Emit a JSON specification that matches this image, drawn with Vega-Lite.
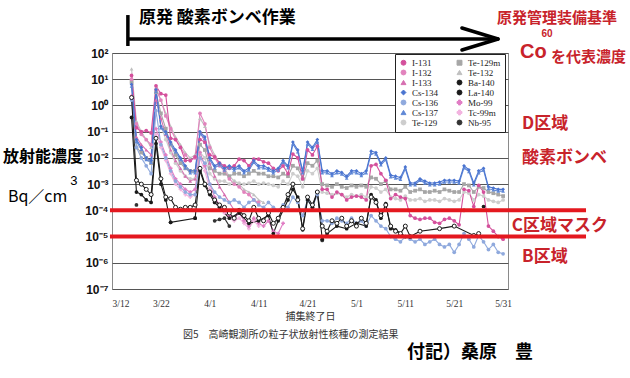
{
"$schema":"https://vega.github.io/schema/vega-lite/v6.json",
"width":396,"height":236,
"autosize":{"type":"none"},
"padding":{"left":112,"top":53,"right":122,"bottom":89},
"background":"white",
"config":{"view":{"stroke":"#8a8a8a","strokeWidth":1}},
"datasets":{"m":[
{"t":"2011-03-22","s":"Te-129","v":0.16},{"t":"2011-03-23","s":"Te-129","v":0.05},{"t":"2011-03-24","s":"Te-129","v":0.016},{"t":"2011-03-25","s":"Te-129","v":0.0063},{"t":"2011-03-26","s":"Te-129","v":0.0032},{"t":"2011-03-27","s":"Te-129","v":0.002},{"t":"2011-03-28","s":"Te-129","v":0.0016},{"t":"2011-03-29","s":"Te-129","v":0.0016},{"t":"2011-03-30","s":"Te-129","v":0.016},{"t":"2011-03-31","s":"Te-129","v":0.01},
{"t":"2011-04-01","s":"Te-129","v":0.0025},{"t":"2011-04-02","s":"Te-129","v":0.0016},{"t":"2011-04-03","s":"Te-129","v":0.0013},{"t":"2011-04-04","s":"Te-129","v":0.0013},{"t":"2011-04-05","s":"Te-129","v":0.001},{"t":"2011-04-06","s":"Te-129","v":0.0013},{"t":"2011-04-07","s":"Te-129","v":0.0011},{"t":"2011-04-08","s":"Te-129","v":0.001},{"t":"2011-04-09","s":"Te-129","v":0.0011},{"t":"2011-04-10","s":"Te-129","v":0.0013},
{"t":"2011-04-11","s":"Te-129","v":0.001},{"t":"2011-04-12","s":"Te-129","v":0.0011},{"t":"2011-04-13","s":"Te-129","v":0.001},{"t":"2011-04-14","s":"Te-129","v":0.00089},{"t":"2011-04-15","s":"Te-129","v":0.00079},{"t":"2011-04-16","s":"Te-129","v":0.0013},{"t":"2011-04-17","s":"Te-129","v":0.001},{"t":"2011-04-18","s":"Te-129","v":0.0025},{"t":"2011-04-19","s":"Te-129","v":0.002},{"t":"2011-04-20","s":"Te-129","v":0.00079},
{"t":"2011-04-21","s":"Te-129","v":0.0032},{"t":"2011-04-22","s":"Te-129","v":0.0025},{"t":"2011-04-23","s":"Te-129","v":0.004},{"t":"2011-04-24","s":"Te-129","v":0.0005},{"t":"2011-04-25","s":"Te-129","v":0.00045},{"t":"2011-04-26","s":"Te-129","v":0.0004},{"t":"2011-04-27","s":"Te-129","v":0.00045},{"t":"2011-04-28","s":"Te-129","v":0.0004},{"t":"2011-04-29","s":"Te-129","v":0.00032},{"t":"2011-04-30","s":"Te-129","v":0.0004},
{"t":"2011-05-01","s":"Te-129","v":0.00035},{"t":"2011-05-02","s":"Te-129","v":0.0004},{"t":"2011-05-03","s":"Te-129","v":0.00032},{"t":"2011-05-04","s":"Te-129","v":0.00079},{"t":"2011-05-05","s":"Te-129","v":0.00071},{"t":"2011-05-06","s":"Te-129","v":0.0005},{"t":"2011-05-07","s":"Te-129","v":0.00063},{"t":"2011-05-08","s":"Te-129","v":0.00032},{"t":"2011-05-09","s":"Te-129","v":0.00028},{"t":"2011-05-10","s":"Te-129","v":0.00025},
{"t":"2011-05-11","s":"Te-129","v":0.00035},{"t":"2011-05-12","s":"Te-129","v":0.00025},{"t":"2011-05-13","s":"Te-129","v":0.00025},{"t":"2011-05-14","s":"Te-129","v":0.00028},{"t":"2011-05-15","s":"Te-129","v":0.00022},{"t":"2011-05-16","s":"Te-129","v":0.00025},{"t":"2011-05-17","s":"Te-129","v":0.00025},{"t":"2011-05-18","s":"Te-129","v":0.00022},{"t":"2011-05-19","s":"Te-129","v":0.00028},{"t":"2011-05-20","s":"Te-129","v":0.00025},
{"t":"2011-05-21","s":"Te-129","v":0.00022},{"t":"2011-05-22","s":"Te-129","v":0.00025},{"t":"2011-05-23","s":"Te-129","v":0.0005},{"t":"2011-05-24","s":"Te-129","v":0.00045},{"t":"2011-05-25","s":"Te-129","v":0.00025},{"t":"2011-05-26","s":"Te-129","v":0.0004},{"t":"2011-05-27","s":"Te-129","v":0.00035},{"t":"2011-05-28","s":"Te-129","v":0.00025},{"t":"2011-05-29","s":"Te-129","v":0.00022},{"t":"2011-05-30","s":"Te-129","v":0.0002},{"t":"2011-05-31","s":"Te-129","v":0.00025},
{"t":"2011-03-16","s":"Te-132","v":25},{"t":"2011-03-17","s":"Te-132","v":0.25},{"t":"2011-03-18","s":"Te-132","v":0.1},{"t":"2011-03-19","s":"Te-132","v":0.05},{"t":"2011-03-20","s":"Te-132","v":0.025},{"t":"2011-03-21","s":"Te-132","v":5},{"t":"2011-03-22","s":"Te-132","v":1.6},{"t":"2011-03-23","s":"Te-132","v":0.5},{"t":"2011-03-24","s":"Te-132","v":0.16},{"t":"2011-03-25","s":"Te-132","v":0.063},
{"t":"2011-03-26","s":"Te-132","v":0.032},{"t":"2011-03-27","s":"Te-132","v":0.016},{"t":"2011-03-28","s":"Te-132","v":0.01},{"t":"2011-03-29","s":"Te-132","v":0.013},{"t":"2011-03-30","s":"Te-132","v":0.32},{"t":"2011-03-31","s":"Te-132","v":0.16},{"t":"2011-04-01","s":"Te-132","v":0.032},{"t":"2011-04-02","s":"Te-132","v":0.013},{"t":"2011-04-03","s":"Te-132","v":0.0063},{"t":"2011-04-04","s":"Te-132","v":0.004},
{"t":"2011-04-05","s":"Te-132","v":0.002},{"t":"2011-04-06","s":"Te-132","v":0.0013},{"t":"2011-04-07","s":"Te-132","v":0.001},{"t":"2011-04-08","s":"Te-132","v":0.00063},{"t":"2011-04-09","s":"Te-132","v":0.0005},{"t":"2011-04-10","s":"Te-132","v":0.0004},{"t":"2011-04-11","s":"Te-132","v":0.00025},{"t":"2011-04-12","s":"Te-132","v":0.0002},
{"t":"2011-03-16","s":"Te-129m","v":7.9},{"t":"2011-03-17","s":"Te-129m","v":0.025},{"t":"2011-03-18","s":"Te-129m","v":0.016},{"t":"2011-03-19","s":"Te-129m","v":0.01},{"t":"2011-03-20","s":"Te-129m","v":0.0063},{"t":"2011-03-21","s":"Te-129m","v":3.2},{"t":"2011-03-22","s":"Te-129m","v":0.5},{"t":"2011-03-23","s":"Te-129m","v":0.13},{"t":"2011-03-24","s":"Te-129m","v":0.032},{"t":"2011-03-25","s":"Te-129m","v":0.013},
{"t":"2011-03-26","s":"Te-129m","v":0.0063},{"t":"2011-03-27","s":"Te-129m","v":0.004},{"t":"2011-03-28","s":"Te-129m","v":0.0032},{"t":"2011-03-29","s":"Te-129m","v":0.0032},{"t":"2011-03-30","s":"Te-129m","v":0.032},{"t":"2011-03-31","s":"Te-129m","v":0.02},{"t":"2011-04-01","s":"Te-129m","v":0.004},{"t":"2011-04-02","s":"Te-129m","v":0.0032},{"t":"2011-04-03","s":"Te-129m","v":0.0025},{"t":"2011-04-04","s":"Te-129m","v":0.0025},
{"t":"2011-04-05","s":"Te-129m","v":0.002},{"t":"2011-04-06","s":"Te-129m","v":0.0025},{"t":"2011-04-07","s":"Te-129m","v":0.0025},{"t":"2011-04-08","s":"Te-129m","v":0.002},{"t":"2011-04-09","s":"Te-129m","v":0.0025},{"t":"2011-04-10","s":"Te-129m","v":0.0032},{"t":"2011-04-11","s":"Te-129m","v":0.0025},{"t":"2011-04-12","s":"Te-129m","v":0.0025},{"t":"2011-04-13","s":"Te-129m","v":0.002},{"t":"2011-04-14","s":"Te-129m","v":0.002},
{"t":"2011-04-15","s":"Te-129m","v":0.0018},{"t":"2011-04-16","s":"Te-129m","v":0.0025},{"t":"2011-04-17","s":"Te-129m","v":0.002},{"t":"2011-04-18","s":"Te-129m","v":0.005},{"t":"2011-04-19","s":"Te-129m","v":0.004},{"t":"2011-04-20","s":"Te-129m","v":0.0016},{"t":"2011-04-21","s":"Te-129m","v":0.0063},{"t":"2011-04-22","s":"Te-129m","v":0.005},{"t":"2011-04-23","s":"Te-129m","v":0.0079},{"t":"2011-04-24","s":"Te-129m","v":0.001},
{"t":"2011-04-25","s":"Te-129m","v":0.00089},{"t":"2011-04-26","s":"Te-129m","v":0.00079},{"t":"2011-04-27","s":"Te-129m","v":0.001},{"t":"2011-04-28","s":"Te-129m","v":0.00079},{"t":"2011-04-29","s":"Te-129m","v":0.00071},{"t":"2011-04-30","s":"Te-129m","v":0.00089},{"t":"2011-05-01","s":"Te-129m","v":0.00079},{"t":"2011-05-02","s":"Te-129m","v":0.00089},{"t":"2011-05-03","s":"Te-129m","v":0.00079},{"t":"2011-05-04","s":"Te-129m","v":0.0018},
{"t":"2011-05-05","s":"Te-129m","v":0.0016},{"t":"2011-05-06","s":"Te-129m","v":0.001},{"t":"2011-05-07","s":"Te-129m","v":0.0013},{"t":"2011-05-08","s":"Te-129m","v":0.00063},{"t":"2011-05-09","s":"Te-129m","v":0.00063},{"t":"2011-05-10","s":"Te-129m","v":0.00056},{"t":"2011-05-11","s":"Te-129m","v":0.00079},{"t":"2011-05-12","s":"Te-129m","v":0.0005},{"t":"2011-05-13","s":"Te-129m","v":0.00056},{"t":"2011-05-14","s":"Te-129m","v":0.00063},
{"t":"2011-05-15","s":"Te-129m","v":0.0005},{"t":"2011-05-16","s":"Te-129m","v":0.0005},{"t":"2011-05-17","s":"Te-129m","v":0.00056},{"t":"2011-05-18","s":"Te-129m","v":0.0005},{"t":"2011-05-19","s":"Te-129m","v":0.00063},{"t":"2011-05-20","s":"Te-129m","v":0.00056},{"t":"2011-05-21","s":"Te-129m","v":0.0005},{"t":"2011-05-22","s":"Te-129m","v":0.0005},{"t":"2011-05-23","s":"Te-129m","v":0.001},{"t":"2011-05-24","s":"Te-129m","v":0.00089},
{"t":"2011-05-25","s":"Te-129m","v":0.0005},{"t":"2011-05-26","s":"Te-129m","v":0.00079},{"t":"2011-05-27","s":"Te-129m","v":0.00071},{"t":"2011-05-28","s":"Te-129m","v":0.0005},{"t":"2011-05-29","s":"Te-129m","v":0.00045},{"t":"2011-05-30","s":"Te-129m","v":0.0004},{"t":"2011-05-31","s":"Te-129m","v":0.00035},
{"t":"2011-03-21","s":"Tc-99m","v":0.079},{"t":"2011-03-22","s":"Tc-99m","v":0.025},{"t":"2011-03-23","s":"Tc-99m","v":0.0079},{"t":"2011-03-24","s":"Tc-99m","v":0.0025},{"t":"2011-03-25","s":"Tc-99m","v":0.001},{"t":"2011-03-26","s":"Tc-99m","v":0.00063},{"t":"2011-03-27","s":"Tc-99m","v":0.0004},{"t":"2011-03-28","s":"Tc-99m","v":0.00032},{"t":"2011-03-29","s":"Tc-99m","v":0.0004},{"t":"2011-03-30","s":"Tc-99m","v":0.01},
{"t":"2011-03-31","s":"Tc-99m","v":0.0032},{"t":"2011-04-01","s":"Tc-99m","v":0.00063},{"t":"2011-04-02","s":"Tc-99m","v":0.0002},{"t":"2011-04-03","s":"Tc-99m","v":0.00013},{"t":"2011-04-04","s":"Tc-99m","v":0.000079},{"t":"2011-04-05","s":"Tc-99m","v":0.00005},{"t":"2011-04-06","s":"Tc-99m","v":0.00004},{"t":"2011-04-07","s":"Tc-99m","v":0.00005},{"t":"2011-04-08","s":"Tc-99m","v":0.000032},{"t":"2011-04-09","s":"Tc-99m","v":0.00002},{"t":"2011-04-10","s":"Tc-99m","v":0.00004},{"t":"2011-04-11","s":"Tc-99m","v":0.000025},
{"t":"2011-03-21","s":"Mo-99","v":0.13},{"t":"2011-03-22","s":"Mo-99","v":0.04},{"t":"2011-03-23","s":"Mo-99","v":0.013},{"t":"2011-03-24","s":"Mo-99","v":0.004},{"t":"2011-03-25","s":"Mo-99","v":0.0016},{"t":"2011-03-26","s":"Mo-99","v":0.001},{"t":"2011-03-27","s":"Mo-99","v":0.00063},{"t":"2011-03-28","s":"Mo-99","v":0.0005},{"t":"2011-03-29","s":"Mo-99","v":0.00063},{"t":"2011-03-30","s":"Mo-99","v":0.016},
{"t":"2011-03-31","s":"Mo-99","v":0.005},{"t":"2011-04-01","s":"Mo-99","v":0.001},{"t":"2011-04-02","s":"Mo-99","v":0.00032},{"t":"2011-04-03","s":"Mo-99","v":0.00016},{"t":"2011-04-04","s":"Mo-99","v":0.0001},{"t":"2011-04-05","s":"Mo-99","v":0.000063},{"t":"2011-04-06","s":"Mo-99","v":0.00005},{"t":"2011-04-07","s":"Mo-99","v":0.000079},{"t":"2011-04-08","s":"Mo-99","v":0.00004},{"t":"2011-04-09","s":"Mo-99","v":0.000025},
{"t":"2011-04-10","s":"Mo-99","v":0.00005},{"t":"2011-04-11","s":"Mo-99","v":0.000032},{"t":"2011-04-12","s":"Mo-99","v":0.000025},{"t":"2011-04-13","s":"Mo-99","v":0.00004},{"t":"2011-04-14","s":"Mo-99","v":0.000016},{"t":"2011-04-15","s":"Mo-99","v":0.000013},{"t":"2011-04-16","s":"Mo-99","v":0.000032},
{"t":"2011-03-16","s":"I-133","v":2.5},{"t":"2011-03-17","s":"I-133","v":0.063},{"t":"2011-03-18","s":"I-133","v":0.032},{"t":"2011-03-19","s":"I-133","v":0.02},{"t":"2011-03-20","s":"I-133","v":0.013},{"t":"2011-03-21","s":"I-133","v":1.6},{"t":"2011-03-22","s":"I-133","v":0.32},{"t":"2011-03-23","s":"I-133","v":0.079},{"t":"2011-03-24","s":"I-133","v":0.02},{"t":"2011-03-25","s":"I-133","v":0.0079},
{"t":"2011-03-26","s":"I-133","v":0.004},{"t":"2011-03-27","s":"I-133","v":0.002},{"t":"2011-03-28","s":"I-133","v":0.0013},{"t":"2011-03-29","s":"I-133","v":0.0016},{"t":"2011-03-30","s":"I-133","v":0.1},{"t":"2011-03-31","s":"I-133","v":0.04},{"t":"2011-04-01","s":"I-133","v":0.0063},{"t":"2011-04-02","s":"I-133","v":0.002},{"t":"2011-04-03","s":"I-133","v":0.00079},{"t":"2011-04-04","s":"I-133","v":0.0004},{"t":"2011-04-05","s":"I-133","v":0.0002},{"t":"2011-04-06","s":"I-133","v":0.0001},
{"t":"2011-03-16","s":"I-132","v":10},{"t":"2011-03-17","s":"I-132","v":0.2},{"t":"2011-03-18","s":"I-132","v":0.079},{"t":"2011-03-19","s":"I-132","v":0.05},{"t":"2011-03-20","s":"I-132","v":0.032},{"t":"2011-03-21","s":"I-132","v":4},{"t":"2011-03-22","s":"I-132","v":1.6},{"t":"2011-03-23","s":"I-132","v":0.4},{"t":"2011-03-24","s":"I-132","v":0.13},{"t":"2011-03-25","s":"I-132","v":0.05},
{"t":"2011-03-26","s":"I-132","v":0.025},{"t":"2011-03-27","s":"I-132","v":0.013},{"t":"2011-03-28","s":"I-132","v":0.0079},{"t":"2011-03-29","s":"I-132","v":0.01},{"t":"2011-03-30","s":"I-132","v":0.5},{"t":"2011-03-31","s":"I-132","v":0.2},{"t":"2011-04-01","s":"I-132","v":0.025},{"t":"2011-04-02","s":"I-132","v":0.01},{"t":"2011-04-03","s":"I-132","v":0.005},{"t":"2011-04-04","s":"I-132","v":0.0032},
{"t":"2011-04-05","s":"I-132","v":0.0016},{"t":"2011-04-06","s":"I-132","v":0.001},{"t":"2011-04-07","s":"I-132","v":0.00079},{"t":"2011-04-08","s":"I-132","v":0.0005},{"t":"2011-04-09","s":"I-132","v":0.0004},{"t":"2011-04-10","s":"I-132","v":0.00025},{"t":"2011-04-11","s":"I-132","v":0.0002},
{"t":"2011-03-16","s":"Cs-136","v":1.6},{"t":"2011-03-17","s":"Cs-136","v":0.025},{"t":"2011-03-18","s":"Cs-136","v":0.01},{"t":"2011-03-19","s":"Cs-136","v":0.005},{"t":"2011-03-20","s":"Cs-136","v":0.0025},{"t":"2011-03-21","s":"Cs-136","v":0.63},{"t":"2011-03-22","s":"Cs-136","v":0.032},{"t":"2011-03-23","s":"Cs-136","v":0.01},{"t":"2011-03-24","s":"Cs-136","v":0.0032},{"t":"2011-03-25","s":"Cs-136","v":0.0013},
{"t":"2011-03-26","s":"Cs-136","v":0.00079},{"t":"2011-03-27","s":"Cs-136","v":0.0005},{"t":"2011-03-28","s":"Cs-136","v":0.0004},{"t":"2011-03-29","s":"Cs-136","v":0.0004},{"t":"2011-03-30","s":"Cs-136","v":0.01},{"t":"2011-03-31","s":"Cs-136","v":0.0063},{"t":"2011-04-01","s":"Cs-136","v":0.001},{"t":"2011-04-02","s":"Cs-136","v":0.0005},{"t":"2011-04-03","s":"Cs-136","v":0.00032},{"t":"2011-04-04","s":"Cs-136","v":0.00025},
{"t":"2011-04-05","s":"Cs-136","v":0.0002},{"t":"2011-04-06","s":"Cs-136","v":0.00025},{"t":"2011-04-07","s":"Cs-136","v":0.0002},{"t":"2011-04-08","s":"Cs-136","v":0.00013},{"t":"2011-04-09","s":"Cs-136","v":0.0002},{"t":"2011-04-10","s":"Cs-136","v":0.00025},{"t":"2011-04-11","s":"Cs-136","v":0.00016},{"t":"2011-04-12","s":"Cs-136","v":0.00013},{"t":"2011-04-13","s":"Cs-136","v":0.0002},{"t":"2011-04-14","s":"Cs-136","v":0.00013},
{"t":"2011-04-15","s":"Cs-136","v":0.0001},{"t":"2011-04-16","s":"Cs-136","v":0.00016},{"t":"2011-04-17","s":"Cs-136","v":0.00013},{"t":"2011-04-18","s":"Cs-136","v":0.00032},{"t":"2011-04-19","s":"Cs-136","v":0.0002},{"t":"2011-04-20","s":"Cs-136","v":0.000063},{"t":"2011-04-21","s":"Cs-136","v":0.00025},{"t":"2011-04-22","s":"Cs-136","v":0.00013},{"t":"2011-04-23","s":"Cs-136","v":0.0004},{"t":"2011-04-24","s":"Cs-136","v":0.00004},
{"t":"2011-04-25","s":"Cs-136","v":0.00004},{"t":"2011-04-26","s":"Cs-136","v":0.000032},{"t":"2011-04-27","s":"Cs-136","v":0.00005},{"t":"2011-04-28","s":"Cs-136","v":0.00004},{"t":"2011-04-29","s":"Cs-136","v":0.000032},{"t":"2011-04-30","s":"Cs-136","v":0.00005},{"t":"2011-05-01","s":"Cs-136","v":0.000032},{"t":"2011-05-02","s":"Cs-136","v":0.00004},{"t":"2011-05-03","s":"Cs-136","v":0.000025},{"t":"2011-05-04","s":"Cs-136","v":0.000063},
{"t":"2011-05-05","s":"Cs-136","v":0.00004},{"t":"2011-05-06","s":"Cs-136","v":0.000025},{"t":"2011-05-07","s":"Cs-136","v":0.00002},{"t":"2011-05-08","s":"Cs-136","v":0.00001},{"t":"2011-05-09","s":"Cs-136","v":0.0000079},{"t":"2011-05-10","s":"Cs-136","v":0.0000063},{"t":"2011-05-11","s":"Cs-136","v":0.00001},{"t":"2011-05-12","s":"Cs-136","v":0.0000079},{"t":"2011-05-13","s":"Cs-136","v":0.0000063},{"t":"2011-05-14","s":"Cs-136","v":0.0000079},
{"t":"2011-05-15","s":"Cs-136","v":0.000005},{"t":"2011-05-16","s":"Cs-136","v":0.0000063},{"t":"2011-05-17","s":"Cs-136","v":0.0000079},{"t":"2011-05-18","s":"Cs-136","v":0.000005},{"t":"2011-05-19","s":"Cs-136","v":0.000004},{"t":"2011-05-20","s":"Cs-136","v":0.000005},{"t":"2011-05-21","s":"Cs-136","v":0.0000025},{"t":"2011-05-22","s":"Cs-136","v":0.000005},{"t":"2011-05-23","s":"Cs-136","v":0.000013},{"t":"2011-05-24","s":"Cs-136","v":0.0000079},
{"t":"2011-05-25","s":"Cs-136","v":0.000004},{"t":"2011-05-26","s":"Cs-136","v":0.000011},{"t":"2011-05-27","s":"Cs-136","v":0.0000063},{"t":"2011-05-28","s":"Cs-136","v":0.0000032},{"t":"2011-05-29","s":"Cs-136","v":0.000005},{"t":"2011-05-30","s":"Cs-136","v":0.0000025},{"t":"2011-05-31","s":"Cs-136","v":0.0000022},
{"t":"2011-03-16","s":"I-131","v":14},{"t":"2011-03-17","s":"I-131","v":0.14},{"t":"2011-03-18","s":"I-131","v":0.1},{"t":"2011-03-19","s":"I-131","v":0.11},{"t":"2011-03-20","s":"I-131","v":0.089},{"t":"2011-03-21","s":"I-131","v":5.6},{"t":"2011-03-22","s":"I-131","v":2.8},{"t":"2011-03-23","s":"I-131","v":2.5},{"t":"2011-03-24","s":"I-131","v":0.056},{"t":"2011-03-25","s":"I-131","v":0.05},
{"t":"2011-03-26","s":"I-131","v":0.025},{"t":"2011-03-27","s":"I-131","v":0.0079},{"t":"2011-03-28","s":"I-131","v":0.0079},{"t":"2011-03-29","s":"I-131","v":0.011},{"t":"2011-03-30","s":"I-131","v":0.05},{"t":"2011-03-31","s":"I-131","v":0.04},{"t":"2011-04-01","s":"I-131","v":0.013},{"t":"2011-04-02","s":"I-131","v":0.011},{"t":"2011-04-03","s":"I-131","v":0.0063},{"t":"2011-04-04","s":"I-131","v":0.005},
{"t":"2011-04-05","s":"I-131","v":0.004},{"t":"2011-04-06","s":"I-131","v":0.005},{"t":"2011-04-07","s":"I-131","v":0.0089},{"t":"2011-04-08","s":"I-131","v":0.0079},{"t":"2011-04-09","s":"I-131","v":0.005},{"t":"2011-04-10","s":"I-131","v":0.0089},{"t":"2011-04-11","s":"I-131","v":0.0089},{"t":"2011-04-12","s":"I-131","v":0.0071},{"t":"2011-04-13","s":"I-131","v":0.0063},{"t":"2011-04-14","s":"I-131","v":0.004},
{"t":"2011-04-15","s":"I-131","v":0.0032},{"t":"2011-04-16","s":"I-131","v":0.005},{"t":"2011-04-17","s":"I-131","v":0.0025},{"t":"2011-04-18","s":"I-131","v":0.014},{"t":"2011-04-19","s":"I-131","v":0.01},{"t":"2011-04-20","s":"I-131","v":0.0016},{"t":"2011-04-21","s":"I-131","v":0.02},{"t":"2011-04-22","s":"I-131","v":0.013},{"t":"2011-04-23","s":"I-131","v":0.028},{"t":"2011-04-24","s":"I-131","v":0.00063},
{"t":"2011-04-25","s":"I-131","v":0.00063},{"t":"2011-04-26","s":"I-131","v":0.00032},{"t":"2011-04-27","s":"I-131","v":0.0005},{"t":"2011-04-28","s":"I-131","v":0.0004},{"t":"2011-04-29","s":"I-131","v":0.00025},{"t":"2011-04-30","s":"I-131","v":0.00032},{"t":"2011-05-01","s":"I-131","v":0.00035},{"t":"2011-05-02","s":"I-131","v":0.00032},{"t":"2011-05-03","s":"I-131","v":0.00025},{"t":"2011-05-04","s":"I-131","v":0.005},
{"t":"2011-05-05","s":"I-131","v":0.0056},{"t":"2011-05-06","s":"I-131","v":0.0025},{"t":"2011-05-07","s":"I-131","v":0.0014},{"t":"2011-05-08","s":"I-131","v":0.00028},{"t":"2011-05-09","s":"I-131","v":0.0004},{"t":"2011-05-10","s":"I-131","v":0.00032},{"t":"2011-05-11","s":"I-131","v":0.00028},{"t":"2011-05-12","s":"I-131","v":0.000063},{"t":"2011-05-13","s":"I-131","v":0.00005},{"t":"2011-05-14","s":"I-131","v":0.000045},
{"t":"2011-05-15","s":"I-131","v":0.00005},{"t":"2011-05-16","s":"I-131","v":0.00005},{"t":"2011-05-17","s":"I-131","v":0.000035},{"t":"2011-05-18","s":"I-131","v":0.000032},{"t":"2011-05-19","s":"I-131","v":0.000045},{"t":"2011-05-20","s":"I-131","v":0.00005},{"t":"2011-05-21","s":"I-131","v":0.00004},{"t":"2011-05-22","s":"I-131","v":0.000028},{"t":"2011-05-23","s":"I-131","v":0.00063},{"t":"2011-05-24","s":"I-131","v":0.00056},
{"t":"2011-05-25","s":"I-131","v":0.00014},{"t":"2011-05-26","s":"I-131","v":0.00089},{"t":"2011-05-27","s":"I-131","v":0.0005},{"t":"2011-05-28","s":"I-131","v":0.000025},{"t":"2011-05-29","s":"I-131","v":0.000016},{"t":"2011-05-30","s":"I-131","v":0.00001},{"t":"2011-05-31","s":"I-131","v":0.0000079},
{"t":"2011-03-16","s":"Cs-137","v":5.4},{"t":"2011-03-17","s":"Cs-137","v":0.042},{"t":"2011-03-18","s":"Cs-137","v":0.021},{"t":"2011-03-19","s":"Cs-137","v":0.0085},{"t":"2011-03-20","s":"Cs-137","v":0.0067},{"t":"2011-03-21","s":"Cs-137","v":3.4},{"t":"2011-03-22","s":"Cs-137","v":0.14},{"t":"2011-03-23","s":"Cs-137","v":0.085},{"t":"2011-03-24","s":"Cs-137","v":0.034},{"t":"2011-03-25","s":"Cs-137","v":0.017},
{"t":"2011-03-26","s":"Cs-137","v":0.0085},{"t":"2011-03-27","s":"Cs-137","v":0.0042},{"t":"2011-03-28","s":"Cs-137","v":0.0027},{"t":"2011-03-29","s":"Cs-137","v":0.0027},{"t":"2011-03-30","s":"Cs-137","v":0.085},{"t":"2011-03-31","s":"Cs-137","v":0.054},{"t":"2011-04-01","s":"Cs-137","v":0.0085},{"t":"2011-04-02","s":"Cs-137","v":0.0042},{"t":"2011-04-03","s":"Cs-137","v":0.0054},{"t":"2011-04-04","s":"Cs-137","v":0.0034},
{"t":"2011-04-05","s":"Cs-137","v":0.0042},{"t":"2011-04-06","s":"Cs-137","v":0.0034},{"t":"2011-04-07","s":"Cs-137","v":0.0042},{"t":"2011-04-08","s":"Cs-137","v":0.0027},{"t":"2011-04-09","s":"Cs-137","v":0.0034},{"t":"2011-04-10","s":"Cs-137","v":0.0067},{"t":"2011-04-11","s":"Cs-137","v":0.0042},{"t":"2011-04-12","s":"Cs-137","v":0.0042},{"t":"2011-04-13","s":"Cs-137","v":0.0034},{"t":"2011-04-14","s":"Cs-137","v":0.0027},
{"t":"2011-04-15","s":"Cs-137","v":0.0034},{"t":"2011-04-16","s":"Cs-137","v":0.0067},{"t":"2011-04-17","s":"Cs-137","v":0.0042},{"t":"2011-04-18","s":"Cs-137","v":0.034},{"t":"2011-04-19","s":"Cs-137","v":0.017},{"t":"2011-04-20","s":"Cs-137","v":0.0027},{"t":"2011-04-21","s":"Cs-137","v":0.034},{"t":"2011-04-22","s":"Cs-137","v":0.021},{"t":"2011-04-23","s":"Cs-137","v":0.042},{"t":"2011-04-24","s":"Cs-137","v":0.0027},
{"t":"2011-04-25","s":"Cs-137","v":0.0027},{"t":"2011-04-26","s":"Cs-137","v":0.0021},{"t":"2011-04-27","s":"Cs-137","v":0.0027},{"t":"2011-04-28","s":"Cs-137","v":0.0024},{"t":"2011-04-29","s":"Cs-137","v":0.0017},{"t":"2011-04-30","s":"Cs-137","v":0.0027},{"t":"2011-05-01","s":"Cs-137","v":0.0027},{"t":"2011-05-02","s":"Cs-137","v":0.0021},{"t":"2011-05-03","s":"Cs-137","v":0.0027},{"t":"2011-05-04","s":"Cs-137","v":0.015},
{"t":"2011-05-05","s":"Cs-137","v":0.014},{"t":"2011-05-06","s":"Cs-137","v":0.0054},{"t":"2011-05-07","s":"Cs-137","v":0.0085},{"t":"2011-05-08","s":"Cs-137","v":0.0019},{"t":"2011-05-09","s":"Cs-137","v":0.0017},{"t":"2011-05-10","s":"Cs-137","v":0.0015},{"t":"2011-05-11","s":"Cs-137","v":0.0038},{"t":"2011-05-12","s":"Cs-137","v":0.00094},{"t":"2011-05-13","s":"Cs-137","v":0.00094},{"t":"2011-05-14","s":"Cs-137","v":0.0014},
{"t":"2011-05-15","s":"Cs-137","v":0.0011},{"t":"2011-05-16","s":"Cs-137","v":0.00094},{"t":"2011-05-17","s":"Cs-137","v":0.00094},{"t":"2011-05-18","s":"Cs-137","v":0.001},{"t":"2011-05-19","s":"Cs-137","v":0.0012},{"t":"2011-05-20","s":"Cs-137","v":0.0012},{"t":"2011-05-21","s":"Cs-137","v":0.0012},{"t":"2011-05-22","s":"Cs-137","v":0.0011},{"t":"2011-05-23","s":"Cs-137","v":0.0042},{"t":"2011-05-24","s":"Cs-137","v":0.003},
{"t":"2011-05-25","s":"Cs-137","v":0.00094},{"t":"2011-05-26","s":"Cs-137","v":0.0027},{"t":"2011-05-27","s":"Cs-137","v":0.0034},{"t":"2011-05-28","s":"Cs-137","v":0.00067},{"t":"2011-05-29","s":"Cs-137","v":0.0006},{"t":"2011-05-30","s":"Cs-137","v":0.00054},{"t":"2011-05-31","s":"Cs-137","v":0.00054},
{"t":"2011-03-16","s":"Cs-134","v":6.3},{"t":"2011-03-17","s":"Cs-134","v":0.05},{"t":"2011-03-18","s":"Cs-134","v":0.025},{"t":"2011-03-19","s":"Cs-134","v":0.01},{"t":"2011-03-20","s":"Cs-134","v":0.0079},{"t":"2011-03-21","s":"Cs-134","v":4},{"t":"2011-03-22","s":"Cs-134","v":0.16},{"t":"2011-03-23","s":"Cs-134","v":0.1},{"t":"2011-03-24","s":"Cs-134","v":0.04},{"t":"2011-03-25","s":"Cs-134","v":0.02},
{"t":"2011-03-26","s":"Cs-134","v":0.01},{"t":"2011-03-27","s":"Cs-134","v":0.005},{"t":"2011-03-28","s":"Cs-134","v":0.0032},{"t":"2011-03-29","s":"Cs-134","v":0.0032},{"t":"2011-03-30","s":"Cs-134","v":0.1},{"t":"2011-03-31","s":"Cs-134","v":0.063},{"t":"2011-04-01","s":"Cs-134","v":0.01},{"t":"2011-04-02","s":"Cs-134","v":0.005},{"t":"2011-04-03","s":"Cs-134","v":0.0063},{"t":"2011-04-04","s":"Cs-134","v":0.004},
{"t":"2011-04-05","s":"Cs-134","v":0.005},{"t":"2011-04-06","s":"Cs-134","v":0.004},{"t":"2011-04-07","s":"Cs-134","v":0.005},{"t":"2011-04-08","s":"Cs-134","v":0.0032},{"t":"2011-04-09","s":"Cs-134","v":0.004},{"t":"2011-04-10","s":"Cs-134","v":0.0079},{"t":"2011-04-11","s":"Cs-134","v":0.005},{"t":"2011-04-12","s":"Cs-134","v":0.005},{"t":"2011-04-13","s":"Cs-134","v":0.004},{"t":"2011-04-14","s":"Cs-134","v":0.0032},
{"t":"2011-04-15","s":"Cs-134","v":0.004},{"t":"2011-04-16","s":"Cs-134","v":0.0079},{"t":"2011-04-17","s":"Cs-134","v":0.005},{"t":"2011-04-18","s":"Cs-134","v":0.04},{"t":"2011-04-19","s":"Cs-134","v":0.02},{"t":"2011-04-20","s":"Cs-134","v":0.0032},{"t":"2011-04-21","s":"Cs-134","v":0.04},{"t":"2011-04-22","s":"Cs-134","v":0.025},{"t":"2011-04-23","s":"Cs-134","v":0.05},{"t":"2011-04-24","s":"Cs-134","v":0.0032},
{"t":"2011-04-25","s":"Cs-134","v":0.0032},{"t":"2011-04-26","s":"Cs-134","v":0.0025},{"t":"2011-04-27","s":"Cs-134","v":0.0032},{"t":"2011-04-28","s":"Cs-134","v":0.0028},{"t":"2011-04-29","s":"Cs-134","v":0.002},{"t":"2011-04-30","s":"Cs-134","v":0.0032},{"t":"2011-05-01","s":"Cs-134","v":0.0032},{"t":"2011-05-02","s":"Cs-134","v":0.0025},{"t":"2011-05-03","s":"Cs-134","v":0.0032},{"t":"2011-05-04","s":"Cs-134","v":0.018},
{"t":"2011-05-05","s":"Cs-134","v":0.016},{"t":"2011-05-06","s":"Cs-134","v":0.0063},{"t":"2011-05-07","s":"Cs-134","v":0.01},{"t":"2011-05-08","s":"Cs-134","v":0.0022},{"t":"2011-05-09","s":"Cs-134","v":0.002},{"t":"2011-05-10","s":"Cs-134","v":0.0018},{"t":"2011-05-11","s":"Cs-134","v":0.0045},{"t":"2011-05-12","s":"Cs-134","v":0.0011},{"t":"2011-05-13","s":"Cs-134","v":0.0011},{"t":"2011-05-14","s":"Cs-134","v":0.0016},
{"t":"2011-05-15","s":"Cs-134","v":0.0013},{"t":"2011-05-16","s":"Cs-134","v":0.0011},{"t":"2011-05-17","s":"Cs-134","v":0.0011},{"t":"2011-05-18","s":"Cs-134","v":0.0012},{"t":"2011-05-19","s":"Cs-134","v":0.0014},{"t":"2011-05-20","s":"Cs-134","v":0.0014},{"t":"2011-05-21","s":"Cs-134","v":0.0014},{"t":"2011-05-22","s":"Cs-134","v":0.0013},{"t":"2011-05-23","s":"Cs-134","v":0.005},{"t":"2011-05-24","s":"Cs-134","v":0.0035},
{"t":"2011-05-25","s":"Cs-134","v":0.0011},{"t":"2011-05-26","s":"Cs-134","v":0.0032},{"t":"2011-05-27","s":"Cs-134","v":0.004},{"t":"2011-05-28","s":"Cs-134","v":0.00079},{"t":"2011-05-29","s":"Cs-134","v":0.00071},{"t":"2011-05-30","s":"Cs-134","v":0.00063},{"t":"2011-05-31","s":"Cs-134","v":0.00063},
{"t":"2011-03-17","s":"Nb-95","v":0.00016},{"t":"2011-03-18","s":"Nb-95","v":null},{"t":"2011-03-24","s":"Nb-95","v":0.000035},{"t":"2011-03-25","s":"Nb-95","v":null},{"t":"2011-03-29","s":"Nb-95","v":0.00005},{"t":"2011-03-30","s":"Nb-95","v":null},{"t":"2011-04-02","s":"Nb-95","v":0.00004},{"t":"2011-04-03","s":"Nb-95","v":0.000045},{"t":"2011-04-04","s":"Nb-95","v":0.00005},{"t":"2011-04-05","s":"Nb-95","v":0.000025},{"t":"2011-04-06","s":"Nb-95","v":null},{"t":"2011-04-24","s":"Nb-95","v":0.0000071},
{"t":"2011-03-16","s":"Ba-140","v":0.35},{"t":"2011-03-17","s":"Ba-140","v":0.0005},{"t":"2011-03-18","s":"Ba-140","v":0.0004},{"t":"2011-03-19","s":"Ba-140","v":0.00025},{"t":"2011-03-20","s":"Ba-140","v":0.0002},{"t":"2011-03-21","s":"Ba-140","v":0.035},{"t":"2011-03-22","s":"Ba-140","v":0.001},{"t":"2011-03-23","s":"Ba-140","v":0.00025},{"t":"2011-03-24","s":"Ba-140","v":0.000035},{"t":"2011-03-29","s":"Ba-140","v":0.00005},
{"t":"2011-03-30","s":"Ba-140","v":0.0032},{"t":"2011-03-31","s":"Ba-140","v":0.00089},{"t":"2011-04-01","s":"Ba-140","v":0.0004},{"t":"2011-04-02","s":"Ba-140","v":0.0002},{"t":"2011-04-03","s":"Ba-140","v":0.00013},{"t":"2011-04-05","s":"Ba-140","v":0.00005},{"t":"2011-04-07","s":"Ba-140","v":0.000079},{"t":"2011-04-09","s":"Ba-140","v":0.000032},{"t":"2011-04-11","s":"Ba-140","v":0.00004},{"t":"2011-04-13","s":"Ba-140","v":0.000063},
{"t":"2011-04-14","s":"Ba-140","v":0.000013},{"t":"2011-04-15","s":"Ba-140","v":0.00004},{"t":"2011-04-17","s":"Ba-140","v":0.00025},{"t":"2011-04-18","s":"Ba-140","v":0.00063},{"t":"2011-04-19","s":"Ba-140","v":0.00032},{"t":"2011-04-20","s":"Ba-140","v":0.000018},{"t":"2011-04-21","s":"Ba-140","v":0.00025},{"t":"2011-04-22","s":"Ba-140","v":0.00013},{"t":"2011-04-23","s":"Ba-140","v":0.0005},{"t":"2011-04-24","s":"Ba-140","v":0.0000079},
{"t":"2011-04-25","s":"Ba-140","v":0.000013},{"t":"2011-04-27","s":"Ba-140","v":0.000025},{"t":"2011-04-29","s":"Ba-140","v":0.00002},{"t":"2011-05-01","s":"Ba-140","v":0.000032},{"t":"2011-05-03","s":"Ba-140","v":0.000025},{"t":"2011-05-04","s":"Ba-140","v":0.0004},{"t":"2011-05-05","s":"Ba-140","v":0.00025},{"t":"2011-05-06","s":"Ba-140","v":0.00005},{"t":"2011-05-07","s":"Ba-140","v":0.00018},{"t":"2011-05-08","s":"Ba-140","v":0.00002},
{"t":"2011-05-09","s":"Ba-140","v":0.000018},{"t":"2011-05-11","s":"Ba-140","v":0.00001},{"t":"2011-05-12","s":"Ba-140","v":null},{"t":"2011-05-23","s":"Ba-140","v":0.0001},{"t":"2011-05-24","s":"Ba-140","v":null},{"t":"2011-05-27","s":"Ba-140","v":0.00014},
{"t":"2011-03-16","s":"La-140","v":2},{"t":"2011-03-17","s":"La-140","v":0.0014},{"t":"2011-03-18","s":"La-140","v":0.001},{"t":"2011-03-19","s":"La-140","v":0.00063},{"t":"2011-03-20","s":"La-140","v":0.0004},{"t":"2011-03-21","s":"La-140","v":0.056},{"t":"2011-03-22","s":"La-140","v":0.0016},{"t":"2011-03-23","s":"La-140","v":0.00032},{"t":"2011-03-24","s":"La-140","v":0.00028},{"t":"2011-03-25","s":"La-140","v":0.00013},
{"t":"2011-03-26","s":"La-140","v":0.00011},{"t":"2011-03-27","s":"La-140","v":0.00013},{"t":"2011-03-28","s":"La-140","v":0.00013},{"t":"2011-03-29","s":"La-140","v":0.00016},{"t":"2011-03-30","s":"La-140","v":0.004},{"t":"2011-03-31","s":"La-140","v":0.001},{"t":"2011-04-01","s":"La-140","v":0.0005},{"t":"2011-04-02","s":"La-140","v":0.00025},{"t":"2011-04-03","s":"La-140","v":0.00016},{"t":"2011-04-04","s":"La-140","v":0.00013},
{"t":"2011-04-05","s":"La-140","v":0.000079},{"t":"2011-04-06","s":"La-140","v":0.00005},{"t":"2011-04-07","s":"La-140","v":0.0001},{"t":"2011-04-08","s":"La-140","v":0.000063},{"t":"2011-04-09","s":"La-140","v":0.00004},{"t":"2011-04-10","s":"La-140","v":0.00013},{"t":"2011-04-11","s":"La-140","v":0.00005},{"t":"2011-04-12","s":"La-140","v":0.00004},{"t":"2011-04-13","s":"La-140","v":0.000079},{"t":"2011-04-14","s":"La-140","v":0.000032},
{"t":"2011-04-15","s":"La-140","v":0.00005},{"t":"2011-04-16","s":"La-140","v":0.00013},{"t":"2011-04-17","s":"La-140","v":0.0004},{"t":"2011-04-18","s":"La-140","v":0.001},{"t":"2011-04-19","s":"La-140","v":0.00025},{"t":"2011-04-20","s":"La-140","v":0.00002},{"t":"2011-04-21","s":"La-140","v":0.00032},{"t":"2011-04-22","s":"La-140","v":0.00016},{"t":"2011-04-23","s":"La-140","v":0.0005},{"t":"2011-04-24","s":"La-140","v":0.000025},
{"t":"2011-04-25","s":"La-140","v":0.000016},{"t":"2011-04-26","s":"La-140","v":0.00004},{"t":"2011-04-27","s":"La-140","v":0.000032},{"t":"2011-04-28","s":"La-140","v":0.00005},{"t":"2011-04-29","s":"La-140","v":0.000025},{"t":"2011-04-30","s":"La-140","v":0.00004},{"t":"2011-05-01","s":"La-140","v":0.000025},{"t":"2011-05-02","s":"La-140","v":0.00005},{"t":"2011-05-03","s":"La-140","v":0.000032},{"t":"2011-05-04","s":"La-140","v":0.00032},
{"t":"2011-05-05","s":"La-140","v":0.0002},{"t":"2011-05-06","s":"La-140","v":0.000063},{"t":"2011-05-07","s":"La-140","v":0.00016},{"t":"2011-05-08","s":"La-140","v":0.000025},{"t":"2011-05-09","s":"La-140","v":0.000016},{"t":"2011-05-10","s":"La-140","v":0.000013},{"t":"2011-05-11","s":"La-140","v":0.000025},{"t":"2011-05-12","s":"La-140","v":0.00001},{"t":"2011-05-14","s":"La-140","v":0.000016},{"t":"2011-05-18","s":"La-140","v":0.00002},
{"t":"2011-05-21","s":"La-140","v":0.000025},{"t":"2011-05-25","s":"La-140","v":0.000011},{"t":"2011-05-26","s":"La-140","v":0.000013}
]},
"layer":[
{"data":{"name":"m"},
 "mark":{"type":"line","strokeWidth":1.1,"invalid":"break-paths-filter-domains"},
 "encoding":{
  "x":{"field":"t","type":"temporal",
   "scale":{"type":"utc","nice":false,"domain":[{"year":2011,"month":3,"date":12,"utc":true},{"year":2011,"month":6,"date":1,"utc":true}]},
   "axis":{"values":[{"year":2011,"month":3,"date":12,"utc":true},{"year":2011,"month":3,"date":22,"utc":true},{"year":2011,"month":4,"date":1,"utc":true},{"year":2011,"month":4,"date":11,"utc":true},{"year":2011,"month":4,"date":21,"utc":true},{"year":2011,"month":5,"date":1,"utc":true},{"year":2011,"month":5,"date":11,"utc":true},{"year":2011,"month":5,"date":21,"utc":true},{"year":2011,"month":5,"date":31,"utc":true}],
    "labelExpr":"utcFormat(datum.value, '%-m/%-d')","grid":false,"domain":false,"ticks":false,
    "labelFont":"Liberation Serif","labelFontSize":9.5,"labelColor":"#333","labelPadding":9,
    "title":"捕集終了日","titleFont":"Noto Sans CJK JP","titleFontSize":10,"titleFontWeight":"normal","titleColor":"#333","titlePadding":4}},
  "y":{"field":"v","type":"quantitative",
   "scale":{"type":"log","domain":[1e-7,100],"nice":false},
   "axis":{"values":[100,10,1,0.1,0.01,0.001,0.0001,0.00001,0.000001,0.0000001],
    "labelExpr":"'10' + ['²','¹','⁰','⁻¹','⁻²','⁻³','⁻⁴','⁻⁵','⁻⁶','⁻⁷'][2-round(log(datum.value)/LN10)]",
    "labelFont":"Liberation Sans","labelFontWeight":"bold","labelFontSize":12,"labelColor":"#111","labelPadding":4,
    "grid":true,"gridColor":"#555","gridWidth":1,"ticks":false,"domain":false,"title":null}},
  "color":{"field":"s","type":"nominal",
   "scale":{"domain":["I-131","I-132","I-133","Cs-134","Cs-136","Cs-137","Te-129","Te-129m","Te-132","Ba-140","La-140","Mo-99","Tc-99m","Nb-95"],
            "range":["#d4509c","#e283bd","#d66eb0","#4a74d0","#8fa9dd","#6088d6","#cdcdcd","#a6a6a6","#c0c0c0","#1a1a1a","#1a1a1a","#e07cc4","#f2b3df","#333333"]},
   "legend":{"orient":"none","legendX":283,"legendY":1,"columns":2,"title":null,"fillColor":"white","strokeColor":"#222","padding":4,
    "labelFont":"Liberation Serif","labelFontSize":9,"labelColor":"#222","labelOffset":4,
    "symbolSize":24,"symbolStrokeWidth":1,
    "rowPadding":-1,"columnPadding":16}}
 }},
{"data":{"name":"m"},"transform":[{"filter":"datum.s !== 'La-140' && isValid(datum.v)"}],
 "mark":{"type":"point","filled":true,"size":14,"opacity":1},
 "encoding":{"x":{"field":"t","type":"temporal"},"y":{"field":"v","type":"quantitative"},"color":{"field":"s","type":"nominal"},
  "shape":{"field":"s","type":"nominal","legend":null,"scale":{"domain":["I-131","I-132","I-133","Cs-134","Cs-136","Cs-137","Te-129","Te-129m","Te-132","Ba-140","La-140","Mo-99","Tc-99m","Nb-95"],"range":["circle","circle","triangle-up","diamond","circle","triangle-up","circle","square","triangle-up","circle","circle","cross","cross","circle"]}}}},
{"data":{"name":"m"},"transform":[{"filter":"datum.s === 'La-140' && isValid(datum.v)"}],
 "mark":{"type":"point","filled":false,"fill":"white","size":16,"strokeWidth":1,"opacity":1},
 "encoding":{"x":{"field":"t","type":"temporal"},"y":{"field":"v","type":"quantitative"},"color":{"field":"s","type":"nominal"}}},
{"data":{"values":[{}]},"mark":{"type":"rule","color":"#e4181f","strokeWidth":4},
 "encoding":{"x":{"datum":{"year":2011,"month":3,"date":11,"hours":14,"utc":true},"type":"temporal"},"x2":{"datum":{"year":2011,"month":6,"date":16,"hours":23,"utc":true}},"y":{"datum":0.0001,"type":"quantitative"}}},
{"data":{"values":[{}]},"mark":{"type":"rule","color":"#e4181f","strokeWidth":4},
 "encoding":{"x":{"datum":{"year":2011,"month":3,"date":11,"hours":14,"utc":true},"type":"temporal"},"x2":{"datum":{"year":2011,"month":6,"date":16,"hours":23,"utc":true}},"y":{"datum":0.00001,"type":"quantitative"}}},
{"data":{"values":[{}]},"mark":{"type":"rule","color":"black","strokeWidth":3.5},
 "encoding":{"x":{"datum":{"year":2011,"month":3,"date":15,"hours":6,"utc":true},"type":"temporal"},"x2":{"datum":{"year":2011,"month":5,"date":29,"hours":23,"utc":true}},"y":{"datum":342,"type":"quantitative"}}},
{"data":{"values":[{}]},"mark":{"type":"rule","color":"black","strokeWidth":3.5},
 "encoding":{"x":{"datum":{"year":2011,"month":3,"date":15,"hours":6,"utc":true},"type":"temporal"},"y":{"datum":2800,"type":"quantitative"},"y2":{"datum":185}}},
{"data":{"values":[{}]},"mark":{"type":"rule","color":"black","strokeWidth":3.5,"strokeCap":"round"},
 "encoding":{"x":{"datum":{"year":2011,"month":5,"date":22,"hours":14,"utc":true},"type":"temporal"},"y":{"datum":897,"type":"quantitative"},"x2":{"datum":{"year":2011,"month":5,"date":29,"hours":23,"utc":true}},"y2":{"datum":342}}},
{"data":{"values":[{}]},"mark":{"type":"rule","color":"black","strokeWidth":3.5,"strokeCap":"round"},
 "encoding":{"x":{"datum":{"year":2011,"month":5,"date":22,"hours":14,"utc":true},"type":"temporal"},"y":{"datum":130,"type":"quantitative"},"x2":{"datum":{"year":2011,"month":5,"date":29,"hours":23,"utc":true}},"y2":{"datum":342}}},
{"data":{"values":[{}]},"mark":{"type":"text","text":"原発 酸素ボンベ作業","font":"Noto Sans CJK JP","fontWeight":"bold","fontSize":17,"color":"black","align":"left","baseline":"middle"},
 "encoding":{"x":{"datum":{"year":2011,"month":3,"date":17,"hours":12,"utc":true},"type":"temporal"},"y":{"datum":2163,"type":"quantitative"}}},
{"data":{"values":[{}]},"mark":{"type":"text","text":"原発管理装備基準","font":"Noto Sans CJK JP","fontWeight":"bold","fontSize":15,"color":"#c8232b","align":"left","baseline":"middle"},
 "encoding":{"x":{"datum":{"year":2011,"month":5,"date":29,"hours":18,"utc":true},"type":"temporal"},"y":{"datum":2163,"type":"quantitative"}}},
{"data":{"values":[{}]},"mark":{"type":"text","text":"60","font":"Liberation Sans","fontWeight":"bold","fontSize":10,"color":"#c8232b","align":"center","baseline":"middle"},
 "encoding":{"x":{"datum":{"year":2011,"month":6,"date":9,"utc":true},"type":"temporal"},"y":{"datum":531,"type":"quantitative"}}},
{"data":{"values":[{}]},"mark":{"type":"text","text":"Co","font":"Liberation Sans","fontWeight":"bold","fontSize":20,"color":"#c8232b","align":"left","baseline":"middle"},
 "encoding":{"x":{"datum":{"year":2011,"month":6,"date":3,"hours":11,"utc":true},"type":"temporal"},"y":{"datum":109,"type":"quantitative"}}},
{"data":{"values":[{}]},"mark":{"type":"text","text":"を代表濃度","font":"Noto Sans CJK JP","fontWeight":"bold","fontSize":15,"color":"#c8232b","align":"left","baseline":"middle"},
 "encoding":{"x":{"datum":{"year":2011,"month":6,"date":9,"hours":19,"utc":true},"type":"temporal"},"y":{"datum":70,"type":"quantitative"}}},
{"data":{"values":[{}]},"mark":{"type":"text","text":"D区域","font":"Noto Sans CJK JP","fontWeight":"bold","fontSize":17,"color":"#c8232b","align":"left","baseline":"middle"},
 "encoding":{"x":{"datum":{"year":2011,"month":6,"date":3,"hours":21,"utc":true},"type":"temporal"},"y":{"datum":0.196,"type":"quantitative"}}},
{"data":{"values":[{}]},"mark":{"type":"text","text":"酸素ボンベ","font":"Noto Sans CJK JP","fontWeight":"bold","fontSize":17,"color":"#c8232b","align":"left","baseline":"middle"},
 "encoding":{"x":{"datum":{"year":2011,"month":6,"date":3,"hours":21,"utc":true},"type":"temporal"},"y":{"datum":0.0099,"type":"quantitative"}}},
{"data":{"values":[{}]},"mark":{"type":"text","text":"C区域マスク","font":"Noto Sans CJK JP","fontWeight":"bold","fontSize":17,"color":"#c8232b","align":"left","baseline":"middle"},
 "encoding":{"x":{"datum":{"year":2011,"month":6,"date":1,"hours":19,"utc":true},"type":"temporal"},"y":{"datum":0.0000252,"type":"quantitative"}}},
{"data":{"values":[{}]},"mark":{"type":"text","text":"B区域","font":"Noto Sans CJK JP","fontWeight":"bold","fontSize":17,"color":"#c8232b","align":"left","baseline":"middle"},
 "encoding":{"x":{"datum":{"year":2011,"month":6,"date":3,"hours":21,"utc":true},"type":"temporal"},"y":{"datum":0.00000166,"type":"quantitative"}}},
{"data":{"values":[{}]},"mark":{"type":"text","text":"放射能濃度","font":"Noto Sans CJK JP","fontWeight":"bold","fontSize":16,"color":"black","align":"left","baseline":"middle"},
 "encoding":{"x":{"datum":{"year":2011,"month":2,"date":17,"hours":17,"utc":true},"type":"temporal"},"y":{"datum":0.0108,"type":"quantitative"}}},
{"data":{"values":[{}]},"mark":{"type":"text","text":"Bq／cm","font":"Noto Sans CJK JP","fontWeight":"normal","fontSize":16,"color":"black","align":"left","baseline":"middle"},
 "encoding":{"x":{"datum":{"year":2011,"month":2,"date":18,"hours":17,"utc":true},"type":"temporal"},"y":{"datum":0.000322,"type":"quantitative"}}},
{"data":{"values":[{}]},"mark":{"type":"text","text":"3","font":"Liberation Sans","fontWeight":"normal","fontSize":13,"color":"black","align":"center","baseline":"middle"},
 "encoding":{"x":{"datum":{"year":2011,"month":3,"date":4,"hours":5,"utc":true},"type":"temporal"},"y":{"datum":0.00135,"type":"quantitative"}}},
{"data":{"values":[{}]},"mark":{"type":"text","text":"図5　高崎観測所の粒子状放射性核種の測定結果","font":"Noto Sans CJK JP","fontWeight":"normal","fontSize":10,"color":"#333","align":"center","baseline":"middle"},
 "encoding":{"x":{"datum":{"year":2011,"month":4,"date":17,"hours":14,"utc":true},"type":"temporal"},"y":{"datum":0.00000000176,"type":"quantitative"}}},
{"data":{"values":[{}]},"mark":{"type":"text","text":"付記）桑原　豊","font":"Noto Sans CJK JP","fontWeight":"bold","fontSize":18,"color":"black","align":"left","baseline":"middle"},
 "encoding":{"x":{"datum":{"year":2011,"month":5,"date":11,"hours":8,"utc":true},"type":"temporal"},"y":{"datum":0.00000000036,"type":"quantitative"}}}
]
}
